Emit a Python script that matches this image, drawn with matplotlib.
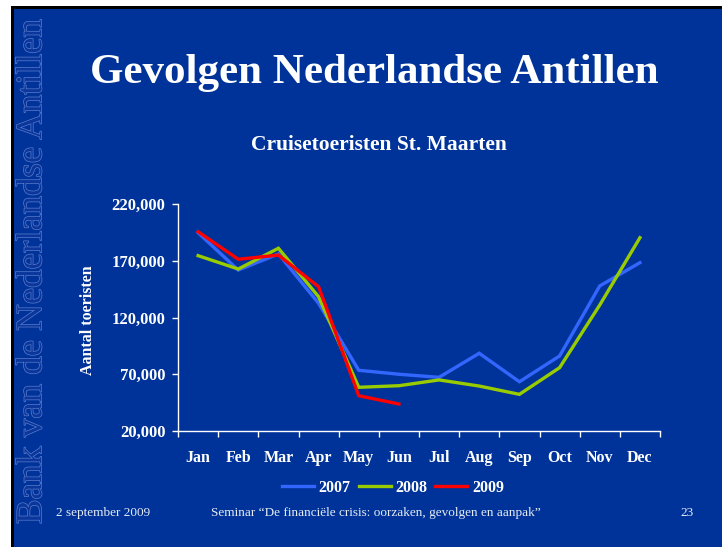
import matplotlib
matplotlib.use("Agg")
import matplotlib.pyplot as plt
import matplotlib.patheffects as pe
from matplotlib.patches import Rectangle

# Monthly cruise tourist arrivals, St. Maarten
months = ["Jan", "Feb", "Mar", "Apr", "May", "Jun",
          "Jul", "Aug", "Sep", "Oct", "Nov", "Dec"]
arrivals_2007 = [194700, 161800, 176000, 132500, 73500, 70000,
                 67300, 88500, 63400, 86100, 147800, 168300]
arrivals_2008 = [174500, 162700, 181000, 138300, 58500, 59900,
                 65000, 59600, 52300, 75800, 131000, 190300]
arrivals_2009 = [195600, 171300, 175000, 147100, 51100, 43800]
years = ["2007", "2008", "2009"]
y_ticks = [20000, 70000, 120000, 170000, 220000]

BG = "#003399"
SERIF = "Liberation Serif"
plt.rcParams["font.family"] = [SERIF, "DejaVu Serif"]

W, H = 722, 547
fig = plt.figure(figsize=(W / 100, H / 100), dpi=100, facecolor="white")

# slide frame: thin black edge on top and left, blue slide body
fig.patches.append(Rectangle((11 / W, 0), 1, 1 - 6 / H, transform=fig.transFigure,
                             facecolor="black", edgecolor="none", zorder=-3))
fig.patches.append(Rectangle((14 / W, 0), 1, 1 - 9 / H, transform=fig.transFigure,
                             facecolor=BG, edgecolor="none", zorder=-2))

# embossed vertical bank name along the left edge
fig.text(32 / W, 1 - 272 / H, "Bank van de Nederlandse Antillen", rotation=90,
         ha="center", va="center", fontsize=26.5, family=SERIF, color="#0b379c",
         path_effects=[pe.withStroke(linewidth=1.0, foreground="#5a7bcc")])

fig.text(374 / W, 1 - 73 / H, "Gevolgen Nederlandse Antillen", ha="center", va="center",
         fontsize=31, fontweight="bold", color="white", family=SERIF)
fig.text(379 / W, 1 - 145 / H, "Cruisetoeristen St. Maarten", ha="center", va="center",
         fontsize=15.5, fontweight="bold", color="white", family=SERIF)

ax = fig.add_axes([178 / W, 1 - 431 / H, (660 - 178) / W, (431 - 204) / H])
ax.set_facecolor(BG)
ax.patch.set_alpha(0)

x = list(range(len(months)))
colors = ["#3366FF", "#99CC00", "#FF0000"]
series = [arrivals_2007, arrivals_2008, arrivals_2009]
for yr, vals, c in zip(years, series, colors):
    ax.plot(x[:len(vals)], vals, color=c, lw=2.4, label=yr, solid_joinstyle="miter")

ax.set_xlim(-0.5, len(months) - 0.5)
ax.set_ylim(y_ticks[0], y_ticks[-1])
ax.set_xticks(x)
ax.set_xticklabels(months)
ax.set_xticks([i - 0.5 for i in range(len(months) + 1)], minor=True)
ax.set_yticks(y_ticks)
ax.set_yticklabels([f"{v:,}" for v in y_ticks])

for side in ("top", "right"):
    ax.spines[side].set_visible(False)
for side in ("left", "bottom"):
    ax.spines[side].set_color("white")
    ax.spines[side].set_linewidth(1.0)

ax.tick_params(axis="x", which="major", length=0, pad=14, labelcolor="white", labelsize=11.5)
ax.tick_params(axis="x", which="minor", length=4, direction="out", color="white", width=1)
ax.tick_params(axis="y", length=4, direction="out", color="white", width=1, pad=5,
               labelcolor="white", labelsize=12)
for lab in ax.get_xticklabels() + ax.get_yticklabels():
    lab.set_fontweight("bold")

fig.text(88 / W, 1 - 320 / H, "Aantal toeristen", rotation=90, ha="center", va="center",
         fontsize=11.5, fontweight="bold", color="white", family=SERIF)

leg = fig.legend(loc="center", bbox_to_anchor=(393 / W, 1 - 488 / H), ncol=3, frameon=False,
                 handlelength=2.0, handletextpad=0.3, columnspacing=0.5,
                 prop={"family": SERIF, "weight": "bold", "size": 11.5})
for t in leg.get_texts():
    t.set_color("white")

foot = "#e6ebf5"
fig.text(56 / W, 1 - 513 / H, "2 september 2009", ha="left", va="center",
         fontsize=9.5, color=foot, family=SERIF)
fig.text(376 / W, 1 - 513 / H,
         "Seminar \u201cDe financi\u00eble crisis: oorzaken, gevolgen en aanpak\u201d",
         ha="center", va="center", fontsize=9.5, color=foot, family=SERIF)
fig.text(687 / W, 1 - 513 / H, "23", ha="center", va="center",
         fontsize=9.5, color=foot, family=SERIF)

fig.savefig("out.png", dpi=100, facecolor=fig.get_facecolor())
